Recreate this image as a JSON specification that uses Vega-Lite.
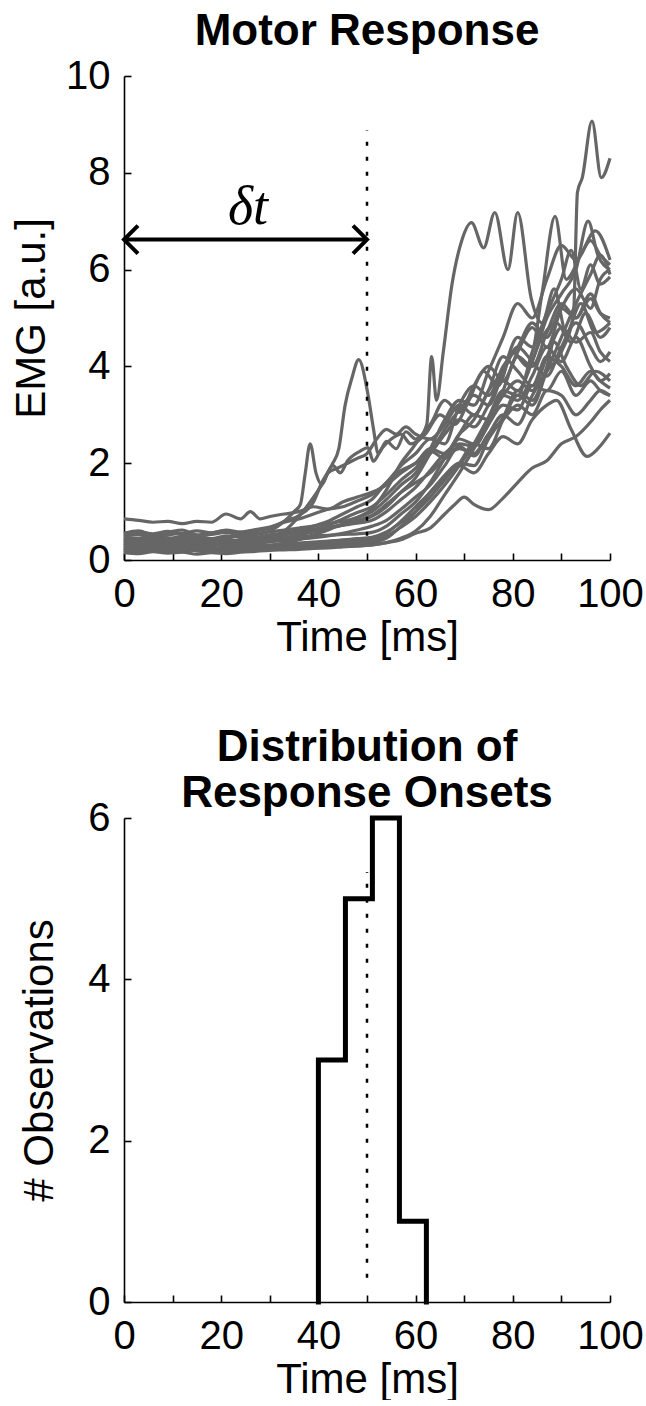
{
"$schema": "https://vega.github.io/schema/vega-lite/v6.json",
"background": "white",
"padding": {"left": 10, "top": 10, "right": 5, "bottom": 0},
"spacing": 68,
"config": {
  "view": {"stroke": null},
  "font": "Liberation Sans",
  "axis": {"domainColor": "black", "domainWidth": 1.6, "tickColor": "black", "tickWidth": 1.6, "tickSize": -7, "labelFont": "Liberation Sans", "labelFontSize": 40, "labelColor": "black", "labelPadding": 21, "titleFont": "Liberation Sans", "titleFontSize": 42, "titleFontWeight": "normal", "titleColor": "black", "grid": false, "labelFlush": false, "labelOverlap": false},
  "title": {"font": "Liberation Sans", "fontSize": 44, "fontWeight": "bold", "color": "black", "anchor": "middle"}
},
"datasets": {
"emg": [
{"k":1,"t":0,"v":0.35},{"k":1,"t":3,"v":0.30},{"k":1,"t":6,"v":0.38},{"k":1,"t":9,"v":0.33},{"k":1,"t":12,"v":0.28},{"k":1,"t":15,"v":0.34},{"k":1,"t":18,"v":0.30},{"k":1,"t":21,"v":0.36},{"k":1,"t":24,"v":0.31},{"k":1,"t":27,"v":0.35},{"k":1,"t":30,"v":0.38},{"k":1,"t":33,"v":0.40},{"k":1,"t":36,"v":0.43},{"k":1,"t":39,"v":0.46},{"k":1,"t":42,"v":0.50},{"k":1,"t":45,"v":0.55},{"k":1,"t":48,"v":0.62},{"k":1,"t":51,"v":0.70},{"k":1,"t":54,"v":0.82},{"k":1,"t":57,"v":1.05},{"k":1,"t":60,"v":1.30},{"k":1,"t":63,"v":1.55},{"k":1,"t":66,"v":1.95},{"k":1,"t":69,"v":2.35},{"k":1,"t":72,"v":2.15},{"k":1,"t":75,"v":2.60},{"k":1,"t":78,"v":3.00},{"k":1,"t":81,"v":2.80},{"k":1,"t":84,"v":3.40},{"k":1,"t":87,"v":3.90},{"k":1,"t":90,"v":4.30},{"k":1,"t":92.5,"v":5.10},{"k":1,"t":93.3,"v":7.60},{"k":1,"t":94.3,"v":7.90},{"k":1,"t":96.3,"v":9.07},{"k":1,"t":98.2,"v":7.90},{"k":1,"t":100,"v":8.30},
{"k":2,"t":0,"v":0.25},{"k":2,"t":3,"v":0.20},{"k":2,"t":6,"v":0.27},{"k":2,"t":9,"v":0.22},{"k":2,"t":12,"v":0.25},{"k":2,"t":15,"v":0.20},{"k":2,"t":18,"v":0.26},{"k":2,"t":21,"v":0.22},{"k":2,"t":24,"v":0.27},{"k":2,"t":27,"v":0.25},{"k":2,"t":30,"v":0.30},{"k":2,"t":33,"v":0.35},{"k":2,"t":36,"v":0.42},{"k":2,"t":39,"v":0.52},{"k":2,"t":42,"v":0.62},{"k":2,"t":45,"v":0.75},{"k":2,"t":48,"v":0.88},{"k":2,"t":51,"v":1.05},{"k":2,"t":54,"v":1.45},{"k":2,"t":57,"v":2.00},{"k":2,"t":60,"v":2.40},{"k":2,"t":62.3,"v":2.80},{"k":2,"t":63.3,"v":4.20},{"k":2,"t":64.3,"v":3.30},{"k":2,"t":65.7,"v":4.30},{"k":2,"t":67.5,"v":5.70},{"k":2,"t":69.5,"v":6.60},{"k":2,"t":71.5,"v":6.97},{"k":2,"t":74,"v":6.45},{"k":2,"t":76.3,"v":7.18},{"k":2,"t":79,"v":6.00},{"k":2,"t":81,"v":7.18},{"k":2,"t":83.8,"v":5.40},{"k":2,"t":86,"v":4.90},{"k":2,"t":88.5,"v":5.60},{"k":2,"t":91,"v":4.70},{"k":2,"t":94,"v":5.30},{"k":2,"t":97,"v":4.70},{"k":2,"t":100,"v":4.90},
{"k":3,"t":0,"v":0.55},{"k":3,"t":3,"v":0.60},{"k":3,"t":6,"v":0.52},{"k":3,"t":9,"v":0.57},{"k":3,"t":12,"v":0.62},{"k":3,"t":15,"v":0.52},{"k":3,"t":18,"v":0.56},{"k":3,"t":21,"v":0.61},{"k":3,"t":24,"v":0.55},{"k":3,"t":27,"v":0.60},{"k":3,"t":30,"v":0.66},{"k":3,"t":33,"v":0.80},{"k":3,"t":36,"v":0.92},{"k":3,"t":39,"v":1.20},{"k":3,"t":40.7,"v":1.60},{"k":3,"t":42.8,"v":1.97},{"k":3,"t":44.2,"v":2.30},{"k":3,"t":45.5,"v":3.20},{"k":3,"t":46.9,"v":3.76},{"k":3,"t":48.3,"v":4.14},{"k":3,"t":50.2,"v":3.42},{"k":3,"t":51.3,"v":2.73},{"k":3,"t":52.3,"v":2.20},{"k":3,"t":54,"v":2.45},{"k":3,"t":56,"v":2.30},{"k":3,"t":58,"v":2.65},{"k":3,"t":60,"v":2.50},{"k":3,"t":63,"v":2.80},{"k":3,"t":66,"v":3.30},{"k":3,"t":69,"v":3.05},{"k":3,"t":72,"v":3.60},{"k":3,"t":75,"v":4.00},{"k":3,"t":78,"v":3.70},{"k":3,"t":81,"v":4.30},{"k":3,"t":84,"v":4.80},{"k":3,"t":87,"v":4.40},{"k":3,"t":90,"v":5.20},{"k":3,"t":93,"v":5.60},{"k":3,"t":96,"v":5.20},{"k":3,"t":98,"v":5.80},{"k":3,"t":100,"v":6.00},
{"k":4,"t":0,"v":0.48},{"k":4,"t":3,"v":0.45},{"k":4,"t":6,"v":0.50},{"k":4,"t":9,"v":0.46},{"k":4,"t":12,"v":0.42},{"k":4,"t":15,"v":0.48},{"k":4,"t":18,"v":0.44},{"k":4,"t":21,"v":0.50},{"k":4,"t":24,"v":0.47},{"k":4,"t":27,"v":0.52},{"k":4,"t":30,"v":0.60},{"k":4,"t":33,"v":0.80},{"k":4,"t":35,"v":1.00},{"k":4,"t":36.3,"v":1.15},{"k":4,"t":37.3,"v":1.80},{"k":4,"t":38.3,"v":2.40},{"k":4,"t":39.5,"v":1.80},{"k":4,"t":40.7,"v":1.56},{"k":4,"t":42,"v":1.80},{"k":4,"t":44,"v":1.90},{"k":4,"t":46,"v":2.00},{"k":4,"t":48,"v":2.10},{"k":4,"t":50,"v":2.20},{"k":4,"t":52,"v":2.50},{"k":4,"t":54,"v":2.70},{"k":4,"t":56,"v":2.60},{"k":4,"t":58,"v":2.75},{"k":4,"t":60,"v":2.60},{"k":4,"t":63,"v":2.50},{"k":4,"t":66,"v":2.80},{"k":4,"t":69,"v":3.20},{"k":4,"t":72,"v":3.00},{"k":4,"t":75,"v":3.50},{"k":4,"t":78,"v":4.20},{"k":4,"t":81,"v":3.90},{"k":4,"t":84,"v":3.60},{"k":4,"t":87,"v":4.20},{"k":4,"t":90,"v":4.00},{"k":4,"t":93,"v":3.60},{"k":4,"t":96,"v":3.90},{"k":4,"t":98,"v":3.70},{"k":4,"t":100,"v":3.55},
{"k":5,"t":0,"v":0.30},{"k":5,"t":3,"v":0.33},{"k":5,"t":6,"v":0.28},{"k":5,"t":9,"v":0.32},{"k":5,"t":12,"v":0.35},{"k":5,"t":15,"v":0.30},{"k":5,"t":18,"v":0.34},{"k":5,"t":21,"v":0.29},{"k":5,"t":24,"v":0.33},{"k":5,"t":27,"v":0.37},{"k":5,"t":30,"v":0.42},{"k":5,"t":33,"v":0.60},{"k":5,"t":36,"v":0.90},{"k":5,"t":39,"v":1.30},{"k":5,"t":41,"v":1.60},{"k":5,"t":43,"v":1.95},{"k":5,"t":44.5,"v":1.80},{"k":5,"t":46,"v":2.05},{"k":5,"t":48.6,"v":2.25},{"k":5,"t":50.2,"v":2.32},{"k":5,"t":51.3,"v":2.04},{"k":5,"t":53,"v":2.30},{"k":5,"t":55,"v":2.50},{"k":5,"t":57,"v":2.60},{"k":5,"t":59,"v":2.40},{"k":5,"t":62,"v":2.60},{"k":5,"t":65,"v":3.00},{"k":5,"t":68,"v":2.80},{"k":5,"t":71,"v":3.30},{"k":5,"t":74,"v":3.90},{"k":5,"t":77,"v":3.60},{"k":5,"t":80,"v":4.30},{"k":5,"t":83,"v":4.00},{"k":5,"t":86,"v":4.60},{"k":5,"t":89,"v":4.90},{"k":5,"t":92,"v":4.50},{"k":5,"t":95,"v":5.10},{"k":5,"t":98,"v":4.60},{"k":5,"t":100,"v":4.80},
{"k":6,"t":0,"v":0.85},{"k":6,"t":3,"v":0.82},{"k":6,"t":6,"v":0.78},{"k":6,"t":9,"v":0.80},{"k":6,"t":12,"v":0.75},{"k":6,"t":15,"v":0.80},{"k":6,"t":18,"v":0.78},{"k":6,"t":21,"v":0.95},{"k":6,"t":24,"v":0.85},{"k":6,"t":26,"v":1.00},{"k":6,"t":28,"v":0.85},{"k":6,"t":30,"v":0.90},{"k":6,"t":33,"v":0.95},{"k":6,"t":36,"v":1.00},{"k":6,"t":39,"v":1.10},{"k":6,"t":42,"v":1.05},{"k":6,"t":45,"v":1.20},{"k":6,"t":48,"v":1.30},{"k":6,"t":51,"v":1.40},{"k":6,"t":54,"v":1.55},{"k":6,"t":57,"v":1.80},{"k":6,"t":60,"v":2.00},{"k":6,"t":63,"v":2.20},{"k":6,"t":66,"v":2.60},{"k":6,"t":69,"v":2.90},{"k":6,"t":72,"v":2.75},{"k":6,"t":75,"v":3.20},{"k":6,"t":78,"v":3.70},{"k":6,"t":81,"v":3.50},{"k":6,"t":84,"v":4.10},{"k":6,"t":87,"v":5.00},{"k":6,"t":90,"v":5.50},{"k":6,"t":93,"v":6.00},{"k":6,"t":95.5,"v":7.00},{"k":6,"t":97.5,"v":6.30},{"k":6,"t":100,"v":6.00},
{"k":7,"t":0,"v":0.40},{"k":7,"t":3,"v":0.44},{"k":7,"t":6,"v":0.38},{"k":7,"t":9,"v":0.42},{"k":7,"t":12,"v":0.45},{"k":7,"t":15,"v":0.40},{"k":7,"t":18,"v":0.43},{"k":7,"t":21,"v":0.38},{"k":7,"t":24,"v":0.42},{"k":7,"t":27,"v":0.46},{"k":7,"t":30,"v":0.48},{"k":7,"t":33,"v":0.52},{"k":7,"t":36,"v":0.58},{"k":7,"t":39,"v":0.62},{"k":7,"t":42,"v":0.68},{"k":7,"t":45,"v":0.72},{"k":7,"t":48,"v":0.80},{"k":7,"t":51,"v":0.90},{"k":7,"t":54,"v":1.10},{"k":7,"t":57,"v":1.40},{"k":7,"t":60,"v":1.70},{"k":7,"t":63,"v":2.20},{"k":7,"t":66,"v":2.70},{"k":7,"t":69,"v":3.10},{"k":7,"t":72,"v":3.40},{"k":7,"t":75,"v":3.20},{"k":7,"t":78,"v":3.90},{"k":7,"t":81,"v":4.60},{"k":7,"t":84,"v":4.40},{"k":7,"t":86,"v":5.50},{"k":7,"t":88.7,"v":7.10},{"k":7,"t":91,"v":5.80},{"k":7,"t":94,"v":6.30},{"k":7,"t":97,"v":6.80},{"k":7,"t":100,"v":6.20},
{"k":8,"t":0,"v":0.20},{"k":8,"t":3,"v":0.18},{"k":8,"t":6,"v":0.23},{"k":8,"t":9,"v":0.20},{"k":8,"t":12,"v":0.17},{"k":8,"t":15,"v":0.22},{"k":8,"t":18,"v":0.19},{"k":8,"t":21,"v":0.24},{"k":8,"t":24,"v":0.21},{"k":8,"t":27,"v":0.23},{"k":8,"t":30,"v":0.25},{"k":8,"t":33,"v":0.26},{"k":8,"t":36,"v":0.28},{"k":8,"t":39,"v":0.30},{"k":8,"t":42,"v":0.31},{"k":8,"t":45,"v":0.33},{"k":8,"t":48,"v":0.34},{"k":8,"t":51,"v":0.36},{"k":8,"t":54,"v":0.45},{"k":8,"t":57,"v":0.70},{"k":8,"t":60,"v":1.00},{"k":8,"t":63,"v":1.40},{"k":8,"t":66,"v":1.70},{"k":8,"t":69,"v":2.00},{"k":8,"t":72,"v":2.40},{"k":8,"t":75,"v":2.30},{"k":8,"t":78,"v":2.90},{"k":8,"t":81,"v":3.40},{"k":8,"t":84,"v":3.20},{"k":8,"t":87,"v":3.90},{"k":8,"t":90,"v":4.60},{"k":8,"t":93,"v":5.30},{"k":8,"t":96,"v":5.90},{"k":8,"t":98,"v":6.30},{"k":8,"t":100,"v":5.90},
{"k":9,"t":0,"v":0.35},{"k":9,"t":3,"v":0.38},{"k":9,"t":6,"v":0.33},{"k":9,"t":9,"v":0.37},{"k":9,"t":12,"v":0.40},{"k":9,"t":15,"v":0.34},{"k":9,"t":18,"v":0.38},{"k":9,"t":21,"v":0.42},{"k":9,"t":24,"v":0.36},{"k":9,"t":27,"v":0.40},{"k":9,"t":30,"v":0.45},{"k":9,"t":33,"v":0.52},{"k":9,"t":36,"v":0.60},{"k":9,"t":39,"v":0.70},{"k":9,"t":42,"v":0.80},{"k":9,"t":45,"v":0.95},{"k":9,"t":48,"v":1.10},{"k":9,"t":51,"v":1.25},{"k":9,"t":54,"v":1.60},{"k":9,"t":57,"v":1.85},{"k":9,"t":60,"v":2.00},{"k":9,"t":63,"v":2.30},{"k":9,"t":66,"v":2.20},{"k":9,"t":69,"v":2.60},{"k":9,"t":72,"v":2.90},{"k":9,"t":75,"v":3.50},{"k":9,"t":78,"v":3.90},{"k":9,"t":81,"v":4.40},{"k":9,"t":84,"v":4.10},{"k":9,"t":87,"v":3.80},{"k":9,"t":90,"v":4.40},{"k":9,"t":93,"v":4.90},{"k":9,"t":96,"v":4.40},{"k":9,"t":98,"v":4.10},{"k":9,"t":100,"v":4.30},
{"k":10,"t":0,"v":0.15},{"k":10,"t":3,"v":0.13},{"k":10,"t":6,"v":0.17},{"k":10,"t":9,"v":0.14},{"k":10,"t":12,"v":0.16},{"k":10,"t":15,"v":0.12},{"k":10,"t":18,"v":0.15},{"k":10,"t":21,"v":0.13},{"k":10,"t":24,"v":0.16},{"k":10,"t":27,"v":0.18},{"k":10,"t":30,"v":0.20},{"k":10,"t":33,"v":0.21},{"k":10,"t":36,"v":0.22},{"k":10,"t":39,"v":0.24},{"k":10,"t":42,"v":0.25},{"k":10,"t":45,"v":0.27},{"k":10,"t":48,"v":0.29},{"k":10,"t":51,"v":0.31},{"k":10,"t":54,"v":0.36},{"k":10,"t":57,"v":0.42},{"k":10,"t":60,"v":0.55},{"k":10,"t":63,"v":0.66},{"k":10,"t":66,"v":0.95},{"k":10,"t":68,"v":1.14},{"k":10,"t":70,"v":1.30},{"k":10,"t":72,"v":1.15},{"k":10,"t":75,"v":1.04},{"k":10,"t":78,"v":1.28},{"k":10,"t":81,"v":1.60},{"k":10,"t":84,"v":1.90},{"k":10,"t":87,"v":2.05},{"k":10,"t":90,"v":2.40},{"k":10,"t":93,"v":2.55},{"k":10,"t":96,"v":2.85},{"k":10,"t":98,"v":3.10},{"k":10,"t":100,"v":3.30},
{"k":11,"t":0,"v":0.25},{"k":11,"t":3,"v":0.28},{"k":11,"t":6,"v":0.24},{"k":11,"t":9,"v":0.27},{"k":11,"t":12,"v":0.23},{"k":11,"t":15,"v":0.26},{"k":11,"t":18,"v":0.22},{"k":11,"t":21,"v":0.27},{"k":11,"t":24,"v":0.25},{"k":11,"t":27,"v":0.28},{"k":11,"t":30,"v":0.30},{"k":11,"t":33,"v":0.32},{"k":11,"t":36,"v":0.34},{"k":11,"t":39,"v":0.36},{"k":11,"t":42,"v":0.38},{"k":11,"t":45,"v":0.41},{"k":11,"t":48,"v":0.44},{"k":11,"t":51,"v":0.47},{"k":11,"t":54,"v":0.58},{"k":11,"t":57,"v":0.78},{"k":11,"t":60,"v":1.00},{"k":11,"t":63,"v":1.30},{"k":11,"t":66,"v":1.65},{"k":11,"t":69,"v":1.95},{"k":11,"t":72,"v":1.80},{"k":11,"t":75,"v":2.20},{"k":11,"t":78,"v":2.55},{"k":11,"t":81,"v":2.40},{"k":11,"t":84,"v":2.90},{"k":11,"t":87,"v":3.20},{"k":11,"t":89,"v":3.30},{"k":11,"t":92,"v":2.70},{"k":11,"t":95.3,"v":2.14},{"k":11,"t":97.5,"v":2.30},{"k":11,"t":100,"v":2.62},
{"k":12,"t":0,"v":0.45},{"k":12,"t":3,"v":0.42},{"k":12,"t":6,"v":0.47},{"k":12,"t":9,"v":0.44},{"k":12,"t":12,"v":0.49},{"k":12,"t":15,"v":0.45},{"k":12,"t":18,"v":0.41},{"k":12,"t":21,"v":0.46},{"k":12,"t":24,"v":0.50},{"k":12,"t":27,"v":0.47},{"k":12,"t":30,"v":0.52},{"k":12,"t":33,"v":0.56},{"k":12,"t":36,"v":0.60},{"k":12,"t":39,"v":0.64},{"k":12,"t":42,"v":0.68},{"k":12,"t":45,"v":0.72},{"k":12,"t":48,"v":0.76},{"k":12,"t":51,"v":0.82},{"k":12,"t":54,"v":1.00},{"k":12,"t":57,"v":1.25},{"k":12,"t":60,"v":1.50},{"k":12,"t":63,"v":1.85},{"k":12,"t":66,"v":2.20},{"k":12,"t":69,"v":2.40},{"k":12,"t":72,"v":2.35},{"k":12,"t":75,"v":2.80},{"k":12,"t":78,"v":3.20},{"k":12,"t":81,"v":3.10},{"k":12,"t":84,"v":3.60},{"k":12,"t":87,"v":3.50},{"k":12,"t":90,"v":3.90},{"k":12,"t":93,"v":3.40},{"k":12,"t":96,"v":3.70},{"k":12,"t":98,"v":3.50},{"k":12,"t":100,"v":3.40},
{"k":13,"t":0,"v":0.20},{"k":13,"t":3,"v":0.23},{"k":13,"t":6,"v":0.19},{"k":13,"t":9,"v":0.22},{"k":13,"t":12,"v":0.25},{"k":13,"t":15,"v":0.21},{"k":13,"t":18,"v":0.24},{"k":13,"t":21,"v":0.20},{"k":13,"t":24,"v":0.23},{"k":13,"t":27,"v":0.26},{"k":13,"t":30,"v":0.27},{"k":13,"t":33,"v":0.29},{"k":13,"t":36,"v":0.31},{"k":13,"t":39,"v":0.33},{"k":13,"t":42,"v":0.35},{"k":13,"t":45,"v":0.37},{"k":13,"t":48,"v":0.39},{"k":13,"t":51,"v":0.41},{"k":13,"t":54,"v":0.50},{"k":13,"t":57,"v":0.68},{"k":13,"t":60,"v":0.90},{"k":13,"t":63,"v":1.20},{"k":13,"t":66,"v":1.55},{"k":13,"t":69,"v":1.95},{"k":13,"t":72,"v":2.40},{"k":13,"t":75,"v":2.95},{"k":13,"t":78,"v":3.50},{"k":13,"t":81,"v":3.40},{"k":13,"t":84,"v":4.30},{"k":13,"t":87,"v":5.10},{"k":13,"t":90,"v":5.80},{"k":13,"t":92,"v":6.40},{"k":13,"t":94,"v":5.60},{"k":13,"t":96,"v":6.10},{"k":13,"t":98,"v":5.70},{"k":13,"t":100,"v":5.85},
{"k":14,"t":0,"v":0.30},{"k":14,"t":3,"v":0.27},{"k":14,"t":6,"v":0.32},{"k":14,"t":9,"v":0.29},{"k":14,"t":12,"v":0.33},{"k":14,"t":15,"v":0.28},{"k":14,"t":18,"v":0.31},{"k":14,"t":21,"v":0.35},{"k":14,"t":24,"v":0.30},{"k":14,"t":27,"v":0.34},{"k":14,"t":30,"v":0.38},{"k":14,"t":33,"v":0.44},{"k":14,"t":36,"v":0.52},{"k":14,"t":39,"v":0.62},{"k":14,"t":42,"v":0.72},{"k":14,"t":45,"v":0.85},{"k":14,"t":48,"v":0.98},{"k":14,"t":51,"v":1.10},{"k":14,"t":54,"v":1.35},{"k":14,"t":57,"v":1.65},{"k":14,"t":60,"v":1.90},{"k":14,"t":63,"v":2.25},{"k":14,"t":66,"v":2.10},{"k":14,"t":69,"v":2.60},{"k":14,"t":72,"v":3.00},{"k":14,"t":75,"v":2.90},{"k":14,"t":78,"v":3.40},{"k":14,"t":81,"v":3.30},{"k":14,"t":84,"v":3.80},{"k":14,"t":87,"v":4.40},{"k":14,"t":90,"v":4.10},{"k":14,"t":93,"v":4.60},{"k":14,"t":96,"v":4.00},{"k":14,"t":98,"v":3.70},{"k":14,"t":100,"v":3.85},
{"k":15,"t":0,"v":0.50},{"k":15,"t":3,"v":0.53},{"k":15,"t":6,"v":0.48},{"k":15,"t":9,"v":0.52},{"k":15,"t":12,"v":0.55},{"k":15,"t":15,"v":0.49},{"k":15,"t":18,"v":0.53},{"k":15,"t":21,"v":0.57},{"k":15,"t":24,"v":0.51},{"k":15,"t":27,"v":0.55},{"k":15,"t":30,"v":0.58},{"k":15,"t":33,"v":0.62},{"k":15,"t":36,"v":0.66},{"k":15,"t":39,"v":0.70},{"k":15,"t":42,"v":0.75},{"k":15,"t":45,"v":0.80},{"k":15,"t":48,"v":0.88},{"k":15,"t":51,"v":1.00},{"k":15,"t":54,"v":1.25},{"k":15,"t":57,"v":1.55},{"k":15,"t":60,"v":1.80},{"k":15,"t":63,"v":2.30},{"k":15,"t":66,"v":2.90},{"k":15,"t":69,"v":3.30},{"k":15,"t":72,"v":3.20},{"k":15,"t":75,"v":3.90},{"k":15,"t":78,"v":4.60},{"k":15,"t":81,"v":5.30},{"k":15,"t":84,"v":5.00},{"k":15,"t":87,"v":5.80},{"k":15,"t":90,"v":6.50},{"k":15,"t":93,"v":6.20},{"k":15,"t":96,"v":6.60},{"k":15,"t":98,"v":6.30},{"k":15,"t":100,"v":6.10},
{"k":16,"t":0,"v":0.40},{"k":16,"t":3,"v":0.37},{"k":16,"t":6,"v":0.42},{"k":16,"t":9,"v":0.38},{"k":16,"t":12,"v":0.35},{"k":16,"t":15,"v":0.40},{"k":16,"t":18,"v":0.37},{"k":16,"t":21,"v":0.43},{"k":16,"t":24,"v":0.39},{"k":16,"t":27,"v":0.41},{"k":16,"t":30,"v":0.44},{"k":16,"t":33,"v":0.46},{"k":16,"t":36,"v":0.48},{"k":16,"t":39,"v":0.50},{"k":16,"t":42,"v":0.51},{"k":16,"t":45,"v":0.53},{"k":16,"t":48,"v":0.54},{"k":16,"t":51,"v":0.57},{"k":16,"t":54,"v":0.70},{"k":16,"t":57,"v":0.95},{"k":16,"t":60,"v":1.20},{"k":16,"t":63,"v":1.60},{"k":16,"t":66,"v":2.10},{"k":16,"t":69,"v":2.50},{"k":16,"t":72,"v":2.40},{"k":16,"t":75,"v":2.90},{"k":16,"t":78,"v":3.40},{"k":16,"t":81,"v":3.70},{"k":16,"t":84,"v":3.50},{"k":16,"t":87,"v":4.20},{"k":16,"t":90,"v":4.80},{"k":16,"t":93,"v":4.50},{"k":16,"t":96,"v":4.70},{"k":16,"t":98,"v":4.30},{"k":16,"t":100,"v":4.10},
{"k":17,"t":0,"v":0.25},{"k":17,"t":3,"v":0.22},{"k":17,"t":6,"v":0.27},{"k":17,"t":9,"v":0.24},{"k":17,"t":12,"v":0.28},{"k":17,"t":15,"v":0.23},{"k":17,"t":18,"v":0.26},{"k":17,"t":21,"v":0.22},{"k":17,"t":24,"v":0.27},{"k":17,"t":27,"v":0.29},{"k":17,"t":30,"v":0.31},{"k":17,"t":33,"v":0.33},{"k":17,"t":36,"v":0.35},{"k":17,"t":39,"v":0.37},{"k":17,"t":42,"v":0.39},{"k":17,"t":45,"v":0.41},{"k":17,"t":48,"v":0.43},{"k":17,"t":51,"v":0.46},{"k":17,"t":54,"v":0.56},{"k":17,"t":57,"v":0.80},{"k":17,"t":60,"v":1.10},{"k":17,"t":63,"v":1.40},{"k":17,"t":66,"v":1.75},{"k":17,"t":69,"v":2.00},{"k":17,"t":72,"v":1.95},{"k":17,"t":75,"v":2.50},{"k":17,"t":78,"v":2.95},{"k":17,"t":81,"v":3.50},{"k":17,"t":84,"v":3.30},{"k":17,"t":87,"v":4.00},{"k":17,"t":88.5,"v":4.50},{"k":17,"t":91,"v":4.00},{"k":17,"t":94,"v":3.60},{"k":17,"t":97,"v":3.90},{"k":17,"t":100,"v":3.70},
{"k":18,"t":0,"v":0.55},{"k":18,"t":3,"v":0.58},{"k":18,"t":6,"v":0.54},{"k":18,"t":9,"v":0.59},{"k":18,"t":12,"v":0.55},{"k":18,"t":15,"v":0.60},{"k":18,"t":18,"v":0.56},{"k":18,"t":21,"v":0.62},{"k":18,"t":24,"v":0.58},{"k":18,"t":27,"v":0.63},{"k":18,"t":30,"v":0.68},{"k":18,"t":33,"v":0.78},{"k":18,"t":36,"v":0.85},{"k":18,"t":39,"v":0.95},{"k":18,"t":42,"v":1.05},{"k":18,"t":45,"v":1.10},{"k":18,"t":48,"v":1.22},{"k":18,"t":51,"v":1.35},{"k":18,"t":54,"v":1.60},{"k":18,"t":57,"v":1.95},{"k":18,"t":60,"v":2.20},{"k":18,"t":63,"v":2.50},{"k":18,"t":66,"v":2.40},{"k":18,"t":69,"v":3.20},{"k":18,"t":72,"v":3.60},{"k":18,"t":75,"v":3.40},{"k":18,"t":78,"v":4.00},{"k":18,"t":81,"v":4.40},{"k":18,"t":84,"v":4.90},{"k":18,"t":87,"v":4.60},{"k":18,"t":90,"v":5.20},{"k":18,"t":93,"v":5.00},{"k":18,"t":96,"v":5.50},{"k":18,"t":98,"v":5.10},{"k":18,"t":100,"v":4.90},
{"k":19,"t":0,"v":0.30},{"k":19,"t":3,"v":0.33},{"k":19,"t":6,"v":0.29},{"k":19,"t":9,"v":0.34},{"k":19,"t":12,"v":0.31},{"k":19,"t":15,"v":0.28},{"k":19,"t":18,"v":0.32},{"k":19,"t":21,"v":0.30},{"k":19,"t":24,"v":0.35},{"k":19,"t":27,"v":0.38},{"k":19,"t":30,"v":0.40},{"k":19,"t":33,"v":0.45},{"k":19,"t":36,"v":0.52},{"k":19,"t":39,"v":0.58},{"k":19,"t":42,"v":0.65},{"k":19,"t":45,"v":0.72},{"k":19,"t":48,"v":0.82},{"k":19,"t":51,"v":0.92},{"k":19,"t":54,"v":1.15},{"k":19,"t":57,"v":1.40},{"k":19,"t":60,"v":1.60},{"k":19,"t":63,"v":1.80},{"k":19,"t":66,"v":2.10},{"k":19,"t":69,"v":2.30},{"k":19,"t":72,"v":2.20},{"k":19,"t":75,"v":2.60},{"k":19,"t":78,"v":2.90},{"k":19,"t":81,"v":3.20},{"k":19,"t":84,"v":3.00},{"k":19,"t":87,"v":3.50},{"k":19,"t":90,"v":3.40},{"k":19,"t":93,"v":3.00},{"k":19,"t":96,"v":3.30},{"k":19,"t":98,"v":3.50},{"k":19,"t":100,"v":3.40},
{"k":20,"t":0,"v":0.20},{"k":20,"t":3,"v":0.17},{"k":20,"t":6,"v":0.21},{"k":20,"t":9,"v":0.18},{"k":20,"t":12,"v":0.22},{"k":20,"t":15,"v":0.19},{"k":20,"t":18,"v":0.16},{"k":20,"t":21,"v":0.20},{"k":20,"t":24,"v":0.18},{"k":20,"t":27,"v":0.21},{"k":20,"t":30,"v":0.23},{"k":20,"t":33,"v":0.24},{"k":20,"t":36,"v":0.25},{"k":20,"t":39,"v":0.26},{"k":20,"t":42,"v":0.27},{"k":20,"t":45,"v":0.28},{"k":20,"t":48,"v":0.29},{"k":20,"t":51,"v":0.31},{"k":20,"t":54,"v":0.36},{"k":20,"t":57,"v":0.45},{"k":20,"t":60,"v":0.60},{"k":20,"t":63,"v":0.90},{"k":20,"t":66,"v":1.35},{"k":20,"t":69,"v":1.80},{"k":20,"t":72,"v":2.30},{"k":20,"t":75,"v":2.80},{"k":20,"t":78,"v":3.50},{"k":20,"t":81,"v":4.20},{"k":20,"t":84,"v":4.00},{"k":20,"t":87,"v":4.70},{"k":20,"t":90,"v":5.30},{"k":20,"t":93,"v":5.00},{"k":20,"t":96,"v":5.40},{"k":20,"t":98,"v":5.10},{"k":20,"t":100,"v":5.00}
]
},
"vconcat": [
{
  "width": 486, "height": 484,
  "title": {"text": "Motor Response", "offset": 2},
  "encoding": {
    "x": {"field": "t", "type": "quantitative", "scale": {"domain": [0, 100], "nice": false},
          "axis": {"values": [0,10,20,30,40,50,60,70,80,90,100], "labelExpr": "datum.value % 20 === 0 ? datum.label : ''", "title": "Time [ms]", "titlePadding": 3}},
    "y": {"field": "v", "type": "quantitative", "scale": {"domain": [0, 10], "nice": false},
          "axis": {"values": [0,2,4,6,8,10], "title": "EMG [a.u.]", "titleX": -71}}
  },
  "layer": [
    {"data": {"name": "emg"}, "mark": {"type": "line", "color": "#666666", "strokeWidth": 3.2, "interpolate": "monotone"},
     "encoding": {"detail": {"field": "k", "type": "nominal"}}},
    {"data": {"values": [{"t": 50, "v": 0.5, "v2": 8.88}]}, "mark": {"type": "rule", "color": "black", "strokeWidth": 2.5, "strokeDash": [4, 11]},
     "encoding": {"y2": {"field": "v2"}}},
    {"data": {"values": [{"t": 0, "t2": 50, "v": 6.62}]}, "mark": {"type": "rule", "color": "black", "strokeWidth": 4},
     "encoding": {"x2": {"field": "t2"}}},
    {"data": {"values": [{"t": 0, "v": 6.62, "d": "L"}, {"t": 50, "v": 6.62, "d": "R"}]},
     "mark": {"type": "point", "filled": false, "color": "black", "strokeWidth": 4, "size": 784, "opacity": 1, "strokeJoin": "miter"},
     "encoding": {"shape": {"field": "d", "type": "nominal", "scale": {"domain": ["L", "R"], "range": ["M1,-1L0,0L1,1", "M-1,-1L0,0L-1,1"]}, "legend": null}}},
    {"data": {"values": [{"t": 25.5, "v": 6.95, "s": "δt"}]},
     "mark": {"type": "text", "font": "Liberation Serif", "fontStyle": "italic", "fontSize": 54, "baseline": "alphabetic", "color": "black"},
     "encoding": {"text": {"field": "s"}}}
  ]
},
{
  "width": 486, "height": 484,
  "title": {"text": ["Distribution of", "Response Onsets"], "offset": -18, "lineHeight": 46},
  "encoding": {
    "x": {"field": "t", "type": "quantitative", "scale": {"domain": [0, 100], "nice": false},
          "axis": {"values": [0,10,20,30,40,50,60,70,80,90,100], "labelExpr": "datum.value % 20 === 0 ? datum.label : ''", "title": "Time [ms]", "titlePadding": 3}},
    "y": {"field": "n", "type": "quantitative", "scale": {"domain": [0, 6], "nice": false},
          "axis": {"values": [0,2,4,6], "title": "# Observations", "titleX": -63}}
  },
  "layer": [
    {"data": {"values": [{"o": 0, "t": 40, "n": 0}, {"o": 1, "t": 40, "n": 3}, {"o": 2, "t": 45.56, "n": 5}, {"o": 3, "t": 51.11, "n": 6}, {"o": 4, "t": 56.67, "n": 1}, {"o": 5, "t": 62.22, "n": 0}]},
     "mark": {"type": "line", "color": "black", "strokeWidth": 5, "interpolate": "step-after", "strokeJoin": "miter", "strokeCap": "square"},
     "encoding": {"order": {"field": "o", "type": "quantitative"}}},
    {"data": {"values": [{"t": 50, "n": 0.3, "n2": 5.33}]}, "mark": {"type": "rule", "color": "black", "strokeWidth": 2.5, "strokeDash": [4, 11]},
     "encoding": {"y2": {"field": "n2"}}}
  ]
}
]
}
